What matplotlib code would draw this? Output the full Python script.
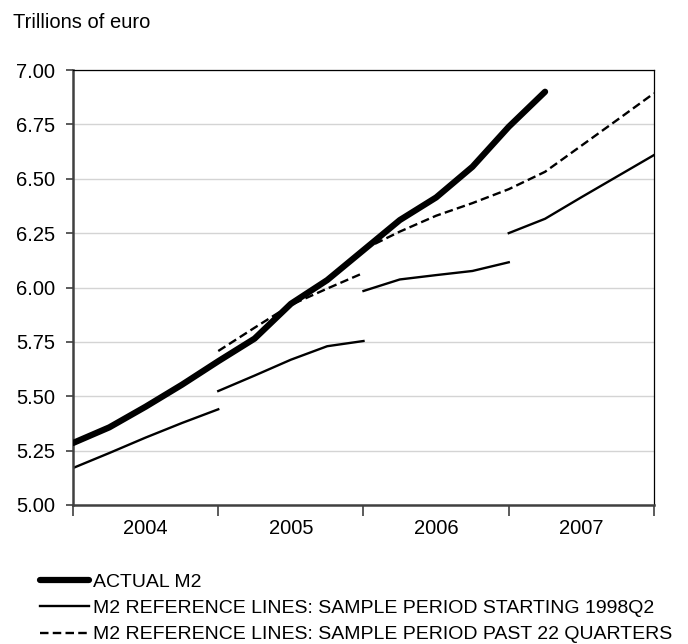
import matplotlib
matplotlib.use("Agg")
import matplotlib.pyplot as plt
import numpy as np

plt.rcParams['font.family'] = ['Liberation Sans', 'DejaVu Sans']

# quarter index 0 = 2004Q1 ... 16 = end of 2007
years = ['2004', '2005', '2006', '2007']

actual_q = list(range(14))
actual_m2 = [5.285, 5.357, 5.452, 5.553, 5.661, 5.765, 5.925, 6.034, 6.172,
             6.310, 6.414, 6.555, 6.739, 6.900]

# reference lines, sample starting 1998Q2 (one per year)
ref_long = [
    ([0, 1, 2, 3, 4], [5.170, 5.239, 5.310, 5.377, 5.440]),
    ([4, 5, 6, 7, 8], [5.524, 5.595, 5.668, 5.730, 5.754]),
    ([8, 9, 10, 11, 12], [5.984, 6.037, 6.057, 6.076, 6.116]),
    ([12, 13, 14, 15, 16], [6.250, 6.316, 6.415, 6.512, 6.609]),
]

# reference lines, sample past 22 quarters
ref_short = [
    ([4, 5, 6, 7, 8], [5.708, 5.815, 5.920, 5.995, 6.067]),
    ([8, 9, 10, 11, 12, 13, 14, 15, 16],
     [6.175, 6.257, 6.330, 6.388, 6.452, 6.532, 6.652, 6.772, 6.893]),
]

fs = 14.5

fig = plt.figure(figsize=(6.88, 6.44), dpi=100)
ax = fig.add_axes([73/688, 1-505/644, (654-73)/688, (505-70)/644])

ax.plot(actual_q, actual_m2, color='black', lw=4.5, solid_capstyle='round',
        solid_joinstyle='round', label='ACTUAL M2', zorder=3)
for i, (q, v) in enumerate(ref_long):
    ax.plot(q, v, color='black', lw=1.7, zorder=2,
            label='M2 REFERENCE LINES: SAMPLE PERIOD STARTING 1998Q2' if i == 0 else None)
for i, (q, v) in enumerate(ref_short):
    ax.plot(q, v, color='black', lw=1.7, dashes=(3.6, 1.8), zorder=2,
            label='M2 REFERENCE LINES: SAMPLE PERIOD PAST 22 QUARTERS' if i == 0 else None)

ax.set_xlim(0, 16)
ax.set_ylim(5.0, 7.0)
ax.set_yticks(np.arange(5.0, 7.01, 0.25))
ax.set_yticklabels(['%.2f' % t for t in np.arange(5.0, 7.01, 0.25)], fontsize=fs)
ax.yaxis.grid(True, color='#d4d4d4', lw=1.0)
ax.set_axisbelow(True)

ax.set_xticks([0, 4, 8, 12, 16])
ax.set_xticklabels([])
ax.set_xticks([2, 6, 10, 14], minor=True)
ax.set_xticklabels(years, minor=True, fontsize=fs)
ax.tick_params(axis='x', which='major', length=8, width=1.2, color='#404040', direction='out')
ax.tick_params(axis='x', which='minor', length=0, pad=10)
ax.tick_params(axis='y', length=5, width=1.2, color='#404040', pad=8)

for s in ['left', 'bottom']:
    ax.spines[s].set_color('#404040')
    ax.spines[s].set_linewidth(1.8)
for s in ['top', 'right']:
    ax.spines[s].set_color('black')
    ax.spines[s].set_linewidth(0.9)

fig.text(13/688, 1-23/644, 'Trillions of euro', fontsize=fs, va='center', ha='left')

h, l = ax.get_legend_handles_labels()
fig.legend(h, l, loc='upper left', bbox_to_anchor=(40/688, 1-573/644), frameon=False,
           fontsize=14, handlelength=2.5, handletextpad=0.25, labelspacing=0.45,
           borderpad=0, borderaxespad=0)

fig.savefig('out.png', dpi=100)
